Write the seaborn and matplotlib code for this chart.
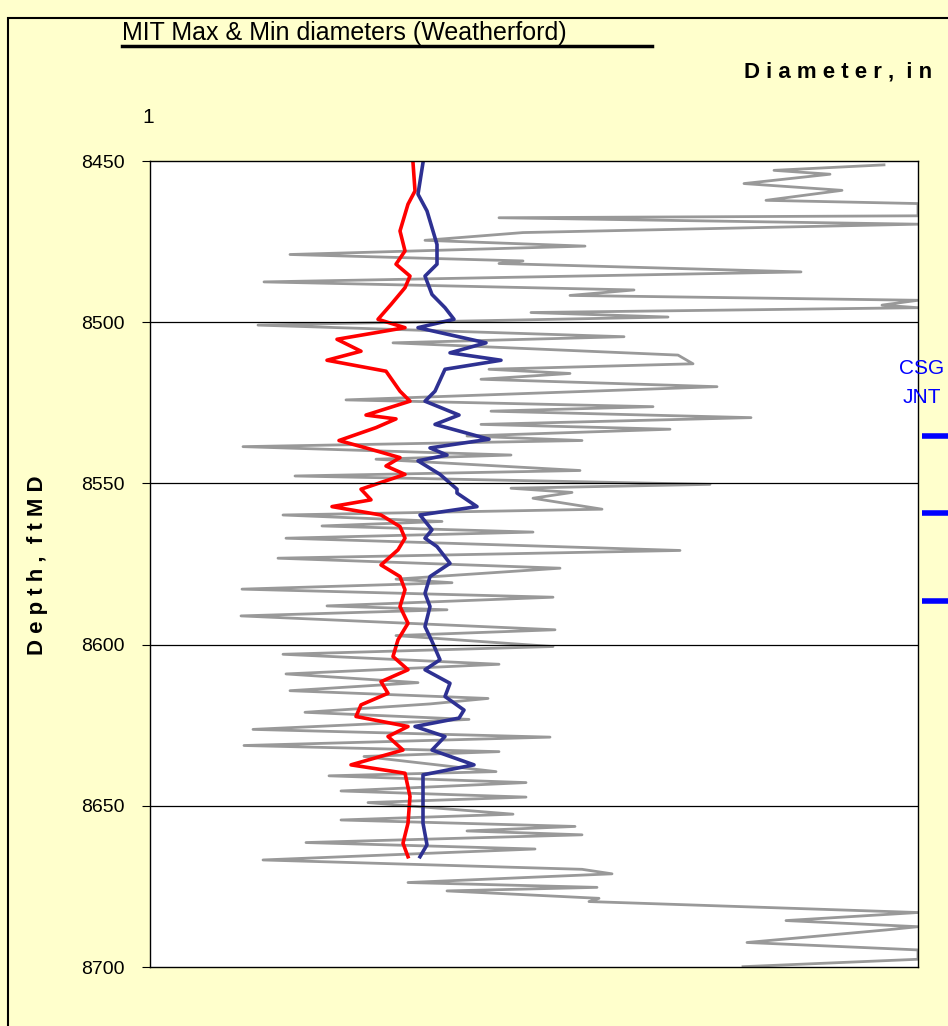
import numpy as np
import pandas as pd
import matplotlib.pyplot as plt
import matplotlib.patches as patches
import seaborn as sns

# gray trace: depth (ftMD) and relative track position
gray_depth = [8451.2, 8452.9, 8454.1, 8457, 8459.1, 8462.2, 8463.2, 8467, 8467.6, 8469.6, 8472.2, 8474.6,
              8476.4, 8479, 8481, 8481.8, 8484.4, 8487.5, 8490, 8491.7, 8493.2, 8494.7, 8495.5, 8497,
              8498.4, 8500.9, 8504.5, 8506.4, 8510.2, 8512.9, 8514.6, 8515.9, 8517.7, 8520, 8524.1, 8526.2,
              8527.6, 8529.6, 8531.7, 8533.2, 8535.3, 8536.7, 8538.6, 8541.2, 8542.5, 8546, 8547.7, 8550.3,
              8551.5, 8552.8, 8554.6, 8558, 8559.8, 8561.8, 8563.2, 8565.1, 8567, 8570.8, 8573.2, 8576.3,
              8579.7, 8580.8, 8582.8, 8585.3, 8588, 8589.2, 8591.1, 8595.4, 8597.2, 8600.6, 8603, 8606.1,
              8609.1, 8611.8, 8614.3, 8616.7, 8618.4, 8621, 8623.2, 8626.3, 8628.7, 8631.3, 8633.2, 8634.7,
              8639.4, 8640.7, 8642.8, 8645.4, 8647.3, 8649, 8652.6, 8654.4, 8656.4, 8657.8, 8659, 8661.4,
              8663.4, 8666.8, 8669.7, 8671.1, 8673.8, 8675.3, 8676.4, 8678.7, 8679.7, 8683.1, 8685.6, 8687.5,
              8688.5, 8692.4, 8694.7, 8697.6, 8699.9]
gray_val = [734, 624, 680, 594, 692, 616, 768, 768, 349, 768, 373, 275,
            435, 140, 373, 349, 651, 114, 484, 420, 768, 732, 768, 381,
            518, 108, 474, 243, 528, 543, 339, 420, 331, 567, 196, 503,
            341, 601, 331, 520, 317, 432, 93, 361, 226, 430, 145, 560,
            361, 422, 383, 452, 133, 292, 172, 383, 136, 530, 128, 410,
            246, 302, 92, 403, 177, 297, 91, 405, 246, 403, 133, 349,
            136, 268, 140, 338, 280, 155, 319, 103, 400, 94, 349, 214,
            346, 179, 376, 191, 376, 218, 363, 191, 425, 317, 432, 156,
            385, 113, 432, 462, 258, 447, 297, 449, 439, 768, 636, 768,
            736, 597, 768, 768, 593]

# min diameter (red)
red_depth = [8450.5, 8459.3, 8463.4, 8471.7, 8477.9, 8482, 8485.7, 8489.3, 8494.5, 8499.1, 8501.7, 8505.3,
             8509, 8511.8, 8515.2, 8521.4, 8524.5, 8528.8, 8530, 8532.7, 8536.7, 8539, 8542, 8544.6,
             8547.2, 8551.8, 8555.1, 8557.2, 8559.8, 8563.4, 8567, 8570.6, 8575.3, 8578.9, 8583, 8588.2,
             8593.4, 8598.5, 8603.7, 8607.8, 8611.5, 8615.1, 8618.7, 8622.3, 8625.4, 8628.5, 8632.7, 8637.3,
             8639.9, 8647.1, 8655.4, 8661.6, 8665.8]
red_val = [263, 265, 258, 250, 255, 246, 260, 255, 241, 228, 255, 187,
           211, 177, 236, 250, 260, 216, 246, 226, 189, 216, 250, 236,
           255, 211, 221, 182, 231, 250, 255, 248, 231, 250, 255, 250,
           258, 248, 243, 258, 231, 238, 211, 206, 258, 238, 253, 201,
           255, 260, 258, 253, 258]

# max diameter (blue)
blue_depth = [8450.5, 8460.3, 8465.5, 8475.9, 8482, 8485.7, 8491.4, 8495.5, 8499.1, 8501.7, 8506.4, 8509.5,
              8511.8, 8514.6, 8521.4, 8524.5, 8528.8, 8531.7, 8536.3, 8539, 8541.2, 8543, 8547.2, 8551.8,
              8553, 8557.2, 8559.8, 8564.4, 8567, 8569.6, 8574.8, 8578.9, 8584.1, 8588.2, 8594.4, 8599,
              8604.7, 8607.8, 8612, 8616.1, 8620.3, 8622.8, 8625.4, 8628.5, 8632.7, 8637.3, 8640.4, 8647.1,
              8655.4, 8662.1, 8665.8]
blue_val = [273, 268, 277, 287, 287, 275, 282, 295, 304, 268, 336, 300,
            351, 295, 285, 275, 309, 285, 339, 280, 297, 268, 290, 307,
            307, 327, 270, 282, 275, 287, 300, 280, 275, 280, 275, 282,
            290, 275, 300, 295, 314, 309, 265, 295, 282, 324, 273, 273,
            273, 277, 270]

csg_jnt = [8535.3, 8559.2, 8586.5]
depth_ticks = [8450, 8500, 8550, 8600, 8650, 8700]

bg = '#FFFFCC'
fig = plt.figure(figsize=(9.48, 10.26), dpi=100, facecolor=bg)
plt.rcParams['font.family'] = ['Liberation Sans', 'DejaVu Sans']
ax = fig.add_axes([150/948, 59/1026, 768/948, 806/1026])
ax.set_facecolor('white')

sns.lineplot(x=gray_val, y=gray_depth, sort=False, estimator=None, color='#999999', lw=2, ax=ax)
sns.lineplot(x=red_val, y=red_depth, sort=False, estimator=None, color='#FF0000', lw=2.6, ax=ax)
sns.lineplot(x=blue_val, y=blue_depth, sort=False, estimator=None, color='#2E3192', lw=2.6, ax=ax)

for d in csg_jnt:
    ax.plot([772, 800], [d, d], color='#0000FF', lw=4, clip_on=False, solid_capstyle='butt')

ax.set_xlim(0, 768)
ax.set_ylim(8700, 8450)
ax.set_yticks(depth_ticks)
ax.set_yticklabels([str(t) for t in depth_ticks], fontsize=14)
ax.tick_params(axis='y', length=6, direction='out', pad=12)
ax.set_xticks([])
for t in depth_ticks[1:-1]:
    ax.axhline(t, color='black', lw=0.9)
for s in ax.spines.values():
    s.set_linewidth(1)
ax.set_ylabel('')

fig.text(148/948, 1 - 118/1026, '1', fontsize=15, ha='center', va='center')
fig.text(122/948, 1 - 33/1026, 'MIT Max & Min diameters (Weatherford)', fontsize=18, ha='left', va='center')
fig.add_artist(plt.Line2D([122/948, 652/948], [1 - 46/1026, 1 - 46/1026], color='black', lw=2.5))
fig.text(932/948, 1 - 72/1026, 'D i a m e t e r ,  i n', fontsize=16, weight='bold', ha='right', va='center')
fig.text(38/948, 1 - 565/1026, 'D e p t h ,  f t M D', fontsize=16, weight='bold', rotation=90,
         ha='center', va='center')
fig.text(922/948, 1 - 368/1026, 'CSG', fontsize=15, color='#0000FF', ha='center', va='center')
fig.text(922/948, 1 - 398/1026, 'JNT', fontsize=15, color='#0000FF', ha='center', va='center')
fig.add_artist(patches.Rectangle((8/948, -0.01), 1.0, 1 - 18/1026 + 0.01, transform=fig.transFigure,
                                 fill=False, edgecolor='black', lw=1.5))

fig.savefig('out.png', dpi=100, facecolor=bg)
